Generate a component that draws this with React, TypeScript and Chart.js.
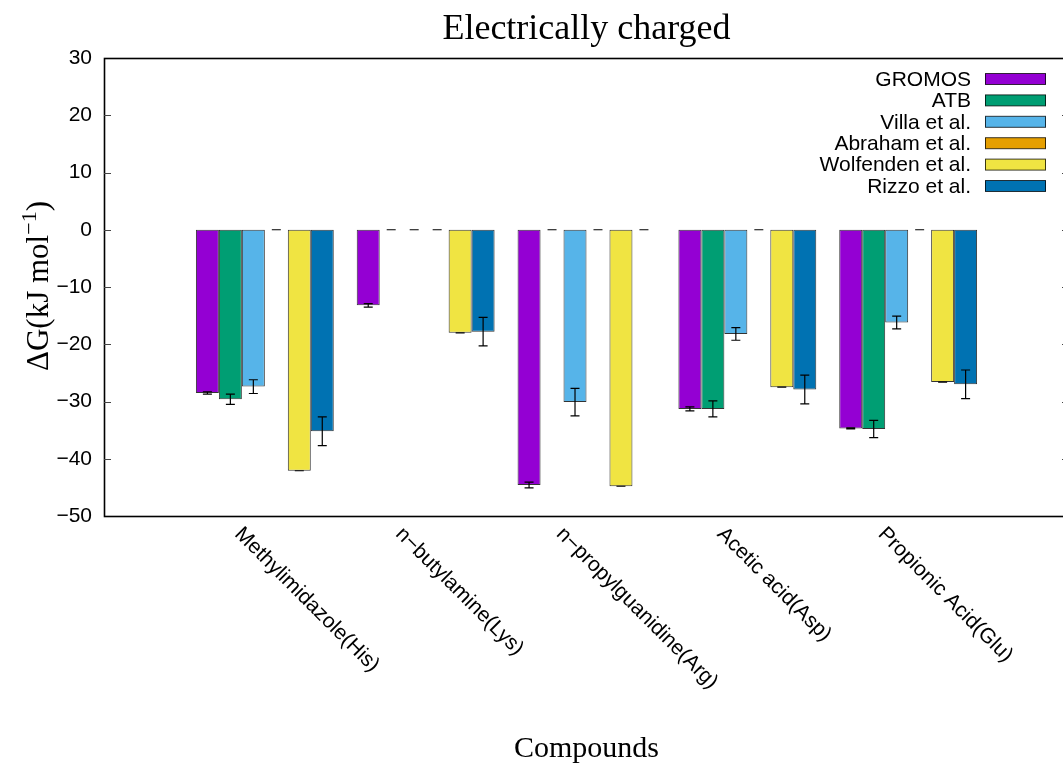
import React, { useEffect, useRef } from 'react';
import { Chart, registerables } from 'chart.js';

Chart.register(...registerables);

// ---------- data ----------
const categories = [
  'Methylimidazole(His)',
  'n\u2212butylamine(Lys)',
  'n\u2212propylguanidine(Arg)',
  'Acetic acid(Asp)',
  'Propionic Acid(Glu)',
];

const seriesNames = ['GROMOS', 'ATB', 'Villa et al.', 'Abraham et al.', 'Wolfenden et al.', 'Rizzo et al.'];
const seriesColors = ['#9400D3', '#009E73', '#56B4E9', '#E69F00', '#F0E442', '#0072B2'];

const gromos = [-28.5, -13.2, -44.6, -31.3, -34.7];
const gromosErr = [0.2, 0.3, 0.5, 0.35, 0.1];
const atb = [-29.6, 0, 0, -31.3, -34.8];
const atbErr = [0.9, 0, 0, 1.4, 1.5];
const villa = [-27.4, 0, -30.1, -18.2, -16.2];
const villaErr = [1.2, 0, 2.4, 1.1, 1.1];
const abraham = [0, 0, 0, 0, 0];
const abrahamErr = [0, 0, 0, 0, 0];
const wolfenden = [-42.1, -18.0, -44.8, -27.5, -26.6];
const wolfendenErr = [0, 0, 0, 0, 0];
const rizzo = [-35.2, -17.8, 0, -27.9, -27.0];
const rizzoErr = [2.5, 2.5, 0, 2.5, 2.5];

const seriesValues = [gromos, atb, villa, abraham, wolfenden, rizzo];
const seriesErrors = [gromosErr, atbErr, villaErr, abrahamErr, wolfendenErr, rizzoErr];

const yMin = -50;
const yMax = 30;
const yStep = 10;

const titleText = 'Electrically charged';
const xTitle = 'Compounds';

// ---------- layout ----------
const CANVAS_W = 1075;
const CANVAS_H = 765;
const AREA_LEFT = 104;
const AREA_TOP = 58;
const AREA_RIGHT = 1069;
const AREA_BOTTOM = 516;

const SANS = "'Liberation Sans', Arial, sans-serif";
const SERIF = "'Liberation Serif', 'Times New Roman', serif";

const decorPlugin = {
  id: 'decor',
  afterDatasetsDraw(chart: any) {
    const ctx = chart.ctx;
    const ys = chart.scales.y;
    ctx.save();
    ctx.strokeStyle = '#000';
    ctx.lineWidth = 1.2;
    seriesValues.forEach((vals, di) => {
      const meta = chart.getDatasetMeta(di);
      const errs = seriesErrors[di];
      meta.data.forEach((el: any, i: number) => {
        const v = vals[i];
        const e = errs[i];
        const x = el.x;
        const y1 = ys.getPixelForValue(v - e);
        const y2 = ys.getPixelForValue(v + e);
        ctx.beginPath();
        ctx.moveTo(x, y1);
        ctx.lineTo(x, y2);
        ctx.moveTo(x - 4.5, y1);
        ctx.lineTo(x + 4.5, y1);
        ctx.moveTo(x - 4.5, y2);
        ctx.lineTo(x + 4.5, y2);
        ctx.stroke();
      });
    });
    ctx.restore();
  },
  afterDraw(chart: any) {
    const ctx = chart.ctx;
    const area = chart.chartArea;
    const ys = chart.scales.y;
    const xs = chart.scales.x;
    ctx.save();

    // frame
    ctx.strokeStyle = '#000';
    ctx.lineWidth = 1.6;
    ctx.strokeRect(area.left + 0.5, area.top + 0.5, area.right - area.left, area.bottom - area.top);

    // y tick marks (inside, both sides)
    ctx.lineWidth = 1;
    ctx.strokeStyle = '#444';
    for (let v = yMin + yStep; v < yMax; v += yStep) {
      const py = Math.round(ys.getPixelForValue(v)) + 0.5;
      ctx.beginPath();
      ctx.moveTo(area.left, py);
      ctx.lineTo(area.left + 7, py);
      ctx.moveTo(area.right, py);
      ctx.lineTo(area.right - 7, py);
      ctx.stroke();
    }

    // legend
    ctx.font = `21px ${SANS}`;
    ctx.textAlign = 'right';
    ctx.textBaseline = 'middle';
    seriesNames.forEach((name, i) => {
      const cy = 79 + i * 21.4;
      ctx.fillStyle = '#000';
      ctx.fillText(name, 971, cy + 1);
      ctx.fillStyle = seriesColors[i];
      ctx.fillRect(985, cy - 5.5, 61, 11);
      ctx.strokeStyle = 'rgba(0,0,0,0.75)';
      ctx.lineWidth = 1;
      ctx.strokeRect(985.5, cy - 5.5, 60, 11);
    });

    // x category labels, rotated clockwise 45 deg, starting near each tick
    ctx.fillStyle = '#000';
    ctx.font = `21px ${SANS}`;
    ctx.textAlign = 'left';
    ctx.textBaseline = 'alphabetic';
    categories.forEach((label, i) => {
      const px = xs.getPixelForValue(i);
      ctx.save();
      ctx.translate(px - 31, 535);
      ctx.rotate(Math.PI / 4);
      ctx.fillText(label, 0, 0);
      ctx.restore();
    });

    // title
    const cx = (area.left + area.right) / 2;
    ctx.font = `36px ${SERIF}`;
    ctx.textAlign = 'center';
    ctx.fillText(titleText, cx, 39);

    // x title
    ctx.font = `30px ${SERIF}`;
    ctx.fillText(xTitle, cx, 757);

    // y title with superscript
    const cy = (area.top + area.bottom) / 2;
    ctx.save();
    ctx.translate(48, cy - 1);
    ctx.rotate(-Math.PI / 2);
    const mainFont = `31px ${SERIF}`;
    const supFont = `22px ${SERIF}`;
    const p1 = '\u0394G(kJ mol';
    const sup = '\u22121';
    const p2 = ')';
    ctx.font = mainFont;
    const w1 = ctx.measureText(p1).width;
    const w3 = ctx.measureText(p2).width;
    ctx.font = supFont;
    const w2 = ctx.measureText(sup).width;
    const total = w1 + w2 + w3;
    let x0 = -total / 2;
    ctx.textAlign = 'left';
    ctx.font = mainFont;
    ctx.fillText(p1, x0, 0);
    x0 += w1;
    ctx.font = supFont;
    ctx.fillText(sup, x0, -12);
    x0 += w2;
    ctx.font = mainFont;
    ctx.fillText(p2, x0, 0);
    ctx.restore();

    ctx.restore();
  },
};

export default function App() {
  const canvasRef = useRef<HTMLCanvasElement | null>(null);

  useEffect(() => {
    const canvas = canvasRef.current;
    if (!canvas) return;
    const datasets = seriesNames.map((name, di) => ({
      label: name,
      data: seriesValues[di].map((v, i) => ({ x: i, y: v })),
      backgroundColor: seriesColors[di],
      borderColor: 'rgba(0,0,0,0.8)',
      borderWidth: 1,
      borderSkipped: false as const,
    }));
    const chart = new Chart(canvas, {
      type: 'bar',
      data: { datasets },
      options: {
        responsive: false,
        animation: false,
        devicePixelRatio: 1,
        layout: { padding: { left: 0, top: AREA_TOP, right: CANVAS_W - AREA_RIGHT, bottom: 0 } },
        datasets: {
          bar: { categoryPercentage: 6 / 7, barPercentage: 1 },
        },
        plugins: {
          legend: { display: false },
          title: { display: false },
          tooltip: { enabled: false },
        },
        scales: {
          x: {
            type: 'linear',
            min: -1,
            max: 5,
            offset: false,
            ticks: { display: false, stepSize: 1 },
            grid: { display: false, drawTicks: false, offset: false },
            border: { display: false },
            afterFit: (s: any) => {
              s.height = CANVAS_H - AREA_BOTTOM;
            },
          },
          y: {
            type: 'linear',
            min: yMin,
            max: yMax,
            ticks: {
              stepSize: yStep,
              color: '#000',
              padding: 12,
              font: { family: SANS, size: 21 },
              callback: (v: any) => String(v).replace('-', '\u2212'),
            },
            grid: { display: false, drawTicks: false },
            border: { display: false },
            afterFit: (s: any) => {
              s.width = AREA_LEFT;
            },
          },
        },
      },
      plugins: [decorPlugin],
    });
    return () => chart.destroy();
  }, []);

  return (
    <div
      style={{
        position: 'fixed',
        left: 0,
        top: 0,
        width: 1063,
        height: 765,
        overflow: 'hidden',
        background: '#fff',
      }}
    >
      <canvas ref={canvasRef} width={CANVAS_W} height={CANVAS_H} style={{ display: 'block' }} />
    </div>
  );
}
